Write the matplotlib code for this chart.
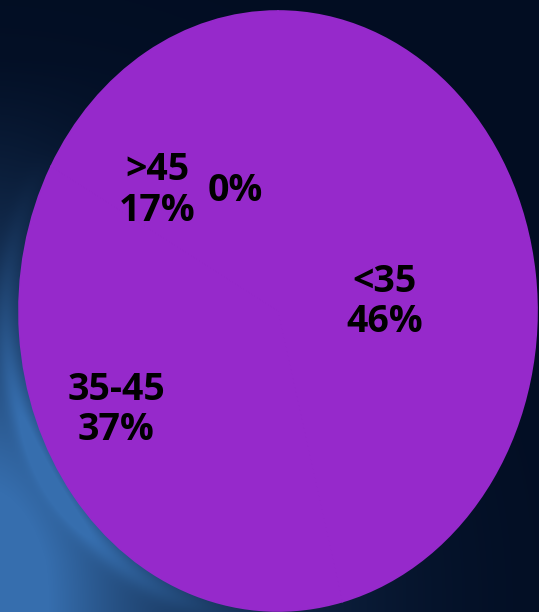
import numpy as np
import matplotlib
matplotlib.use('Agg')
import matplotlib.pyplot as plt

# data
categories = ['<35', '35-45', '>45', '']
shares = [46, 37, 17, 0]
pie_color = '#9629cb'

# label placement (axes data coords, pie radius 1)
label_pos = [(0.41, 0.03), (-0.625, -0.33), (-0.467, 0.403), (-0.166, 0.40)]

W, H = 539, 612
fig = plt.figure(figsize=(W / 100, H / 100), dpi=100)

# background: dark navy with a blue glow in the lower left
bg = fig.add_axes([0, 0, 1, 1])
yy, xx = np.mgrid[0:H, 0:W]
navy = np.array([0x02, 0x0d, 0x22]) / 255
blue = np.array([0x36, 0x6e, 0xae]) / 255
glow = np.exp(-((xx + 30) ** 2 + (yy - 600) ** 2) / (2 * 210.0 ** 2))
glow += 0.45 * np.exp(-((xx + 10) ** 2) / (2 * 70.0 ** 2)) * np.clip((yy - 60) / 500, 0, 1)
# soft ring just outside the pie on its left side
ex = (xx - 272) / 266.0
ey = (yy - 314) / 302.0
ring = np.exp(-((np.sqrt(ex ** 2 + ey ** 2) - 1.0) / 0.04) ** 2)
ring *= np.clip((280 - xx) / 280, 0, 1) * np.clip((yy - 150) / 350, 0, 1)
amt = np.clip(0.8 * glow + 0.35 * ring, 0, 1)[..., None]
img = navy * (1 - amt) + blue * amt
bg.imshow(img, extent=[0, W, H, 0], aspect='auto')
bg.axis('off')

# the pie, stretched into an ellipse
ax = fig.add_axes([19 / W, 1 - 611 / H, (537 - 19) / W, (611 - 11) / H])
ax.pie(shares, colors=[pie_color] * len(shares), startangle=90, counterclock=False,
       radius=1, wedgeprops=dict(linewidth=1.2, edgecolor=pie_color))
ax.set_aspect('auto')
ax.set_xlim(-1, 1)
ax.set_ylim(-1, 1)
ax.axis('off')

for cat, val, (lx, ly) in zip(categories, shares, label_pos):
    txt = f'{cat}\n{val}%' if cat else f'{val}%'
    ax.text(lx, ly, txt, ha='center', va='center', fontsize=27, fontweight='bold',
            family=['Open Sans', 'DejaVu Sans'], color='black', linespacing=1.1)

fig.savefig('out.png', dpi=100)
